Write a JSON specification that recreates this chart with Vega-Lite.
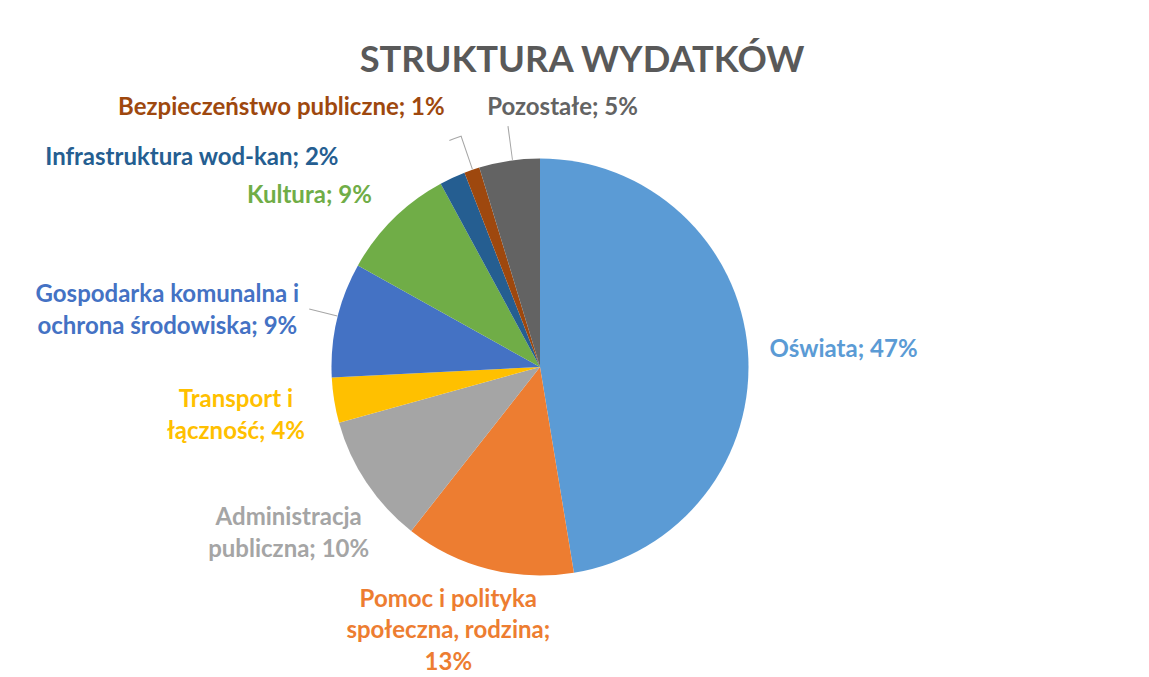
{
  "$schema": "https://vega.github.io/schema/vega-lite/v6.json",
  "width": 1080,
  "height": 734,
  "autosize": {"type": "none"},
  "padding": {"left": 0, "top": 0, "right": 0, "bottom": 0},
  "background": "white",
  "config": {"view": {"stroke": null}, "font": "Lato", "text": {"fontSize": 24, "fontWeight": "bold", "lineBreak": "\n", "lineHeight": 31.5, "align": "center", "baseline": "middle"}},
  "title": {
    "text": "STRUKTURA WYDATKÓW",
    "font": "Lato",
    "fontSize": 36.3,
    "fontWeight": "bold",
    "color": "#595959",
    "anchor": "middle",
    "frame": "group",
    "dx": 42,
    "offset": -79
  },
  "data": {
    "values": [
      {"order": 1, "cat": "Oświata", "value": 47.4, "label": "Oświata; 47%"},
      {"order": 2, "cat": "Pomoc i polityka społeczna, rodzina", "value": 13.2, "label": "Pomoc i polityka\nspołeczna, rodzina;\n13%"},
      {"order": 3, "cat": "Administracja publiczna", "value": 10.1, "label": "Administracja\npubliczna; 10%"},
      {"order": 4, "cat": "Transport i łączność", "value": 3.5, "label": "Transport i\nłączność; 4%"},
      {"order": 5, "cat": "Gospodarka komunalna i ochrona środowiska", "value": 8.9, "label": "Gospodarka komunalna i\nochrona środowiska; 9%"},
      {"order": 6, "cat": "Kultura", "value": 9.0, "label": "Kultura; 9%"},
      {"order": 7, "cat": "Infrastruktura wod-kan", "value": 2.0, "label": "Infrastruktura wod-kan; 2%"},
      {"order": 8, "cat": "Bezpieczeństwo publiczne", "value": 1.2, "label": "Bezpieczeństwo publiczne; 1%"},
      {"order": 9, "cat": "Pozostałe", "value": 4.7, "label": "Pozostałe; 5%"}
    ]
  },
  "transform": [
    {"stack": "value", "groupby": [], "sort": [{"field": "order", "order": "ascending"}], "as": ["v0", "v1"]}
  ],
  "encoding": {
    "theta": {"field": "v0", "type": "quantitative", "stack": null, "scale": {"domain": [0, 100]}},
    "color": {
      "field": "cat",
      "type": "nominal",
      "legend": null,
      "scale": {
        "domain": ["Oświata", "Pomoc i polityka społeczna, rodzina", "Administracja publiczna", "Transport i łączność", "Gospodarka komunalna i ochrona środowiska", "Kultura", "Infrastruktura wod-kan", "Bezpieczeństwo publiczne", "Pozostałe"],
        "range": ["#5B9BD5", "#ED7D31", "#A5A5A5", "#FFC000", "#4472C4", "#70AD47", "#255E91", "#9E480E", "#636363"]
      }
    }
  },
  "layer": [
    {"mark": {"type": "arc", "outerRadius": 208.5}, "encoding": {"theta2": {"field": "v1"}}},
    {"transform": [{"filter": "datum.order == 9"}], "mark": {"type": "arc", "innerRadius": 209, "outerRadius": 243, "thetaOffset": 0.1609, "theta2Offset": 0.1654}, "encoding": {"theta2": {"field": "v0"}, "color": {"value": "#A6A6A6"}}},
    {"transform": [{"filter": "datum.order == 8"}], "mark": {"type": "arc", "innerRadius": 209, "outerRadius": 244, "thetaOffset": 0.0391, "theta2Offset": 0.0436}, "encoding": {"theta2": {"field": "v0"}, "color": {"value": "#A6A6A6"}}},
    {"transform": [{"filter": "datum.order == 8"}], "mark": {"type": "arc", "innerRadius": 243.5, "outerRadius": 244.5, "thetaOffset": -0.0098, "theta2Offset": 0.0436}, "encoding": {"theta2": {"field": "v0"}, "color": {"value": "#A6A6A6"}}},
    {"transform": [{"filter": "datum.order == 5"}], "mark": {"type": "arc", "innerRadius": 209, "outerRadius": 238, "thetaOffset": 0.2946, "theta2Offset": 0.2991}, "encoding": {"theta2": {"field": "v0"}, "color": {"value": "#A6A6A6"}}},
    {"transform": [{"filter": "datum.order == 1"}], "mark": {"type": "text", "radius": 304, "thetaOffset": 1.514}, "encoding": {"text": {"field": "label"}}},
    {"transform": [{"filter": "datum.order == 2"}], "mark": {"type": "text", "radius": 280, "thetaOffset": 0.497, "dy": -32}, "encoding": {"text": {"field": "label"}}},
    {"transform": [{"filter": "datum.order == 3"}], "mark": {"type": "text", "radius": 302, "thetaOffset": 0.317, "dy": -16}, "encoding": {"text": {"field": "label"}}},
    {"transform": [{"filter": "datum.order == 4"}], "mark": {"type": "text", "radius": 308, "thetaOffset": 0.110, "dy": -16}, "encoding": {"text": {"field": "label"}}},
    {"transform": [{"filter": "datum.order == 5"}], "mark": {"type": "text", "radius": 377, "thetaOffset": 0.202, "dy": -15}, "encoding": {"text": {"field": "label"}}},
    {"transform": [{"filter": "datum.order == 6"}], "mark": {"type": "text", "radius": 287, "thetaOffset": 0.129}, "encoding": {"text": {"field": "label"}}},
    {"transform": [{"filter": "datum.order == 7"}], "mark": {"type": "text", "radius": 406, "thetaOffset": -0.534}, "encoding": {"text": {"field": "label"}}},
    {"transform": [{"filter": "datum.order == 8"}], "mark": {"type": "text", "radius": 366, "thetaOffset": -0.414}, "encoding": {"text": {"field": "label"}}},
    {"transform": [{"filter": "datum.order == 9"}], "mark": {"type": "text", "radius": 260, "thetaOffset": 0.382}, "encoding": {"text": {"field": "label"}}}
  ]
}
